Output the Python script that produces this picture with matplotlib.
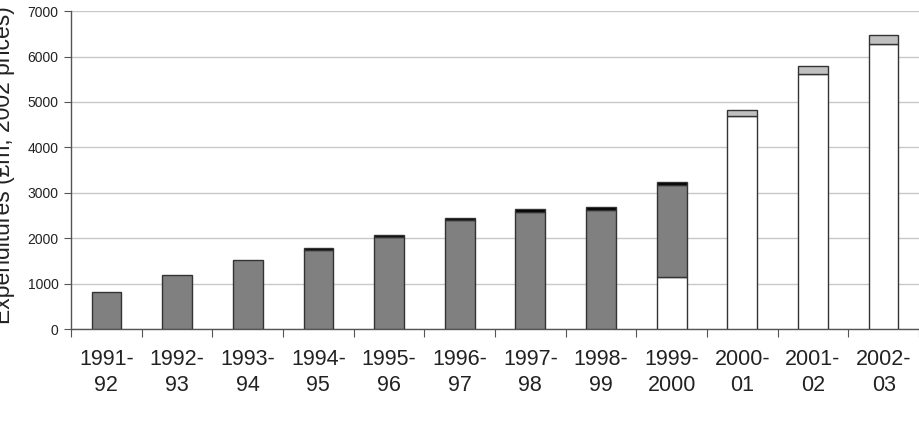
import numpy as np
import matplotlib.pyplot as plt

plt.rcParams['font.family'] = ['Liberation Sans', 'DejaVu Sans']

years = ["1991-\n92", "1992-\n93", "1993-\n94", "1994-\n95", "1995-\n96", "1996-\n97",
         "1997-\n98", "1998-\n99", "1999-\n2000", "2000-\n01", "2001-\n02", "2002-\n03"]

# stacked components (£m, 2002 prices)
white = [0, 0, 0, 0, 0, 0, 0, 0, 1145, 4695, 5617, 6284]
gray = [827, 1194, 1524, 1746, 2039, 2401, 2591, 2623, 2022, 0, 0, 0]
black = [0, 0, 0, 35, 35, 40, 55, 60, 65, 0, 0, 0]
light = [0, 0, 0, 0, 0, 0, 0, 0, 0, 129, 176, 198]

fig = plt.figure(figsize=(9.2, 4.26), dpi=100)
ax = fig.add_axes([0.0772, 0.227, 0.9217, 0.747])

x = np.arange(len(years))
w = 0.42
edge = dict(edgecolor='#333333', linewidth=1.0, width=w, zorder=3)

bottom = np.zeros(len(years))
for vals, col in [(white, 'white'), (gray, '#808080'), (black, '#000000'), (light, '#c0c0c0')]:
    v = np.array(vals, dtype=float)
    mask = v > 0
    ax.bar(x[mask], v[mask], bottom=bottom[mask], color=col, **edge)
    bottom += v

ax.set_xlim(-0.5, len(years) - 0.5)
ax.set_ylim(0, 7000)
ax.set_yticks(np.arange(0, 7001, 1000))
ax.yaxis.grid(True, color='#c8c8c8', linewidth=1.0, zorder=0)
ax.set_axisbelow(True)

# ticks at category boundaries, labels at centres
ax.set_xticks(np.arange(-0.5, len(years), 1.0))
ax.set_xticklabels([])
ax.set_xticks(x, minor=True)
ax.set_xticklabels(years, minor=True, fontsize=15.5, color='#222222', linespacing=1.3)
ax.tick_params(axis='x', which='major', direction='out', length=6, color='#555555')
ax.tick_params(axis='x', which='minor', length=0, pad=14)
ax.tick_params(axis='y', direction='out', length=5, color='#555555',
               labelsize=10, labelcolor='#222222', pad=4)

for s in ['top', 'right']:
    ax.spines[s].set_visible(False)
for s in ['left', 'bottom']:
    ax.spines[s].set_color('#555555')
    ax.spines[s].set_linewidth(1.0)

fig.text(15 / 920, 1 - 165 / 426, "Expenditures (£m, 2002 prices)", rotation=90,
         ha='right', va='center', fontsize=16.5, color='#222222')

fig.savefig("out.png", dpi=100)
